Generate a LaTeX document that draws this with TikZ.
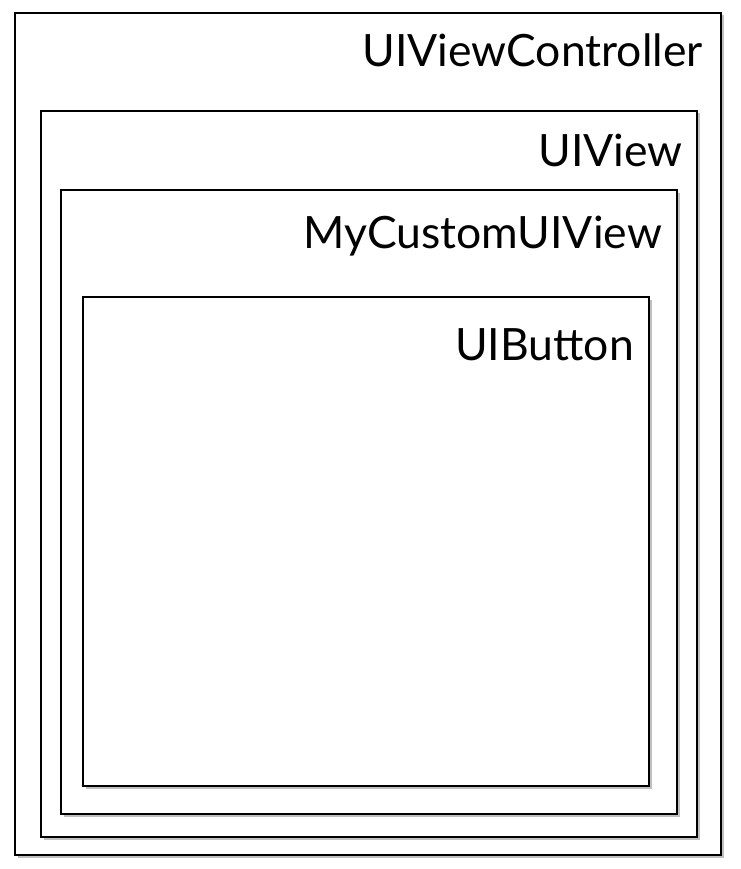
\documentclass[tikz,border=0pt]{standalone}
\usepackage{fontspec}
\setmainfont{Lato}
\usetikzlibrary{shadows}
\tikzset{
  viewbox/.style={draw=black, line width=1.8pt, fill=white,
    drop shadow={shadow xshift=2.5pt, shadow yshift=-2.5pt, opacity=0.25, fill=black}},
  lbl/.style={anchor=base east, inner sep=0pt, font=\fontsize{44.5}{48}\selectfont}
}
\begin{document}
\begin{tikzpicture}[x=1pt,y=-1pt]
\useasboundingbox (0,0) rectangle (740,869);
\fill[white] (0,0) rectangle (740,869);
\path[viewbox] (15,13) rectangle (721,855);
\node[lbl] (vc) at (703,67) {UIViewController};
\path[viewbox] (41,111) rectangle (697,837);
\node[lbl] (v) at (683,167) {UIView};
\path[viewbox] (61,190) rectangle (677,814);
\node[lbl] (cv) at (662,248) {MyCustomUIView};
\path[viewbox] (83,297) rectangle (649,786);
\node[lbl] (b) at (634,360) {UIButton};
\end{tikzpicture}
\end{document}
